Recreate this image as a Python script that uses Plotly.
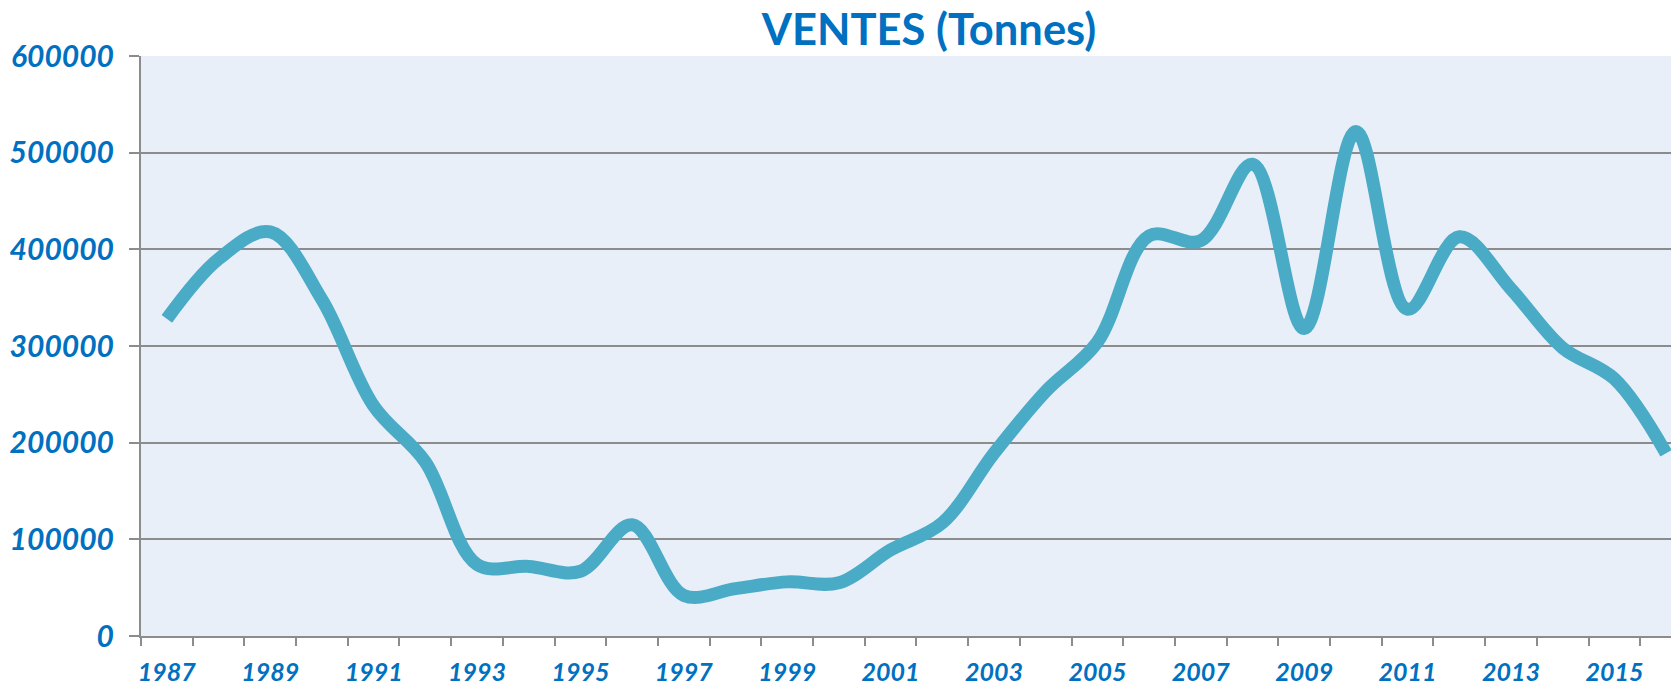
import plotly.graph_objects as go

years = list(range(1987, 2017))
ventes = [328000, 390000, 418000, 348000, 238000, 180000, 74000, 72000, 67000, 115000,
          42000, 49000, 56000, 55000, 89000, 117000, 189000, 253000, 304000, 414000,
          409000, 488000, 318000, 522000, 338000, 413000, 359000, 298000, 266000, 189000]
x_labels = [str(y) for y in range(1987, 2017, 2)]
y_ticks = [0, 100000, 200000, 300000, 400000, 500000, 600000]
title_text = "VENTES (Tonnes)"

blue = "#0070C0"
grid = "#8C8C8C"

# page body has an 8px margin: compensate so the chart fills the 1679x686 window
W, H, OFF = 1679 - 8, 686 - 8, 8

fig = go.Figure()
fig.add_trace(go.Scatter(
    x=years, y=ventes, mode="lines",
    line=dict(color="#4AABC6", width=13, shape="spline", smoothing=1.0),
    showlegend=False,
))

fig.update_layout(
    width=W, height=H,
    margin=dict(l=141 - OFF, r=0, t=56 - OFF, b=H - (56 - OFF) - 580),
    paper_bgcolor="white",
    plot_bgcolor="#E9EFF9",
    title=dict(text=title_text, x=(929 - OFF) / W, xanchor="center", xref="container",
               y=1 - (30 - OFF) / H, yanchor="middle", yref="container", automargin=False,
               font=dict(family="Lato", size=43.5, color=blue, weight="bold")),
)

fig.update_xaxes(
    range=[1986.5, 2016.25],
    automargin=False,
    tickmode="array",
    tickvals=[int(v) for v in x_labels],
    ticktext=x_labels,
    ticks="outside", ticklen=0,
    ticklabelstandoff=13,
    tickfont=dict(family="Lato", size=25, color=blue, weight="bold", style="italic"),
    showgrid=False,
    showline=True, linecolor=grid, linewidth=2,
    minor=dict(tickmode="linear", tick0=1986.5, dtick=1, ticks="outside",
               ticklen=8, tickcolor=grid, tickwidth=2, showgrid=False),
    zeroline=False,
)

fig.update_yaxes(
    range=[0, 600000],
    automargin=False,
    tickmode="array",
    tickvals=y_ticks,
    ticktext=[str(v) for v in y_ticks],
    ticks="outside", ticklen=10, tickcolor=grid, tickwidth=2,
    ticklabelstandoff=9,
    tickfont=dict(family="Lato", size=30, color=blue, weight="bold", style="italic"),
    showgrid=True, gridcolor=grid, gridwidth=2,
    showline=True, linecolor=grid, linewidth=2,
    zeroline=False,
)

fig.write_html("out.html")
